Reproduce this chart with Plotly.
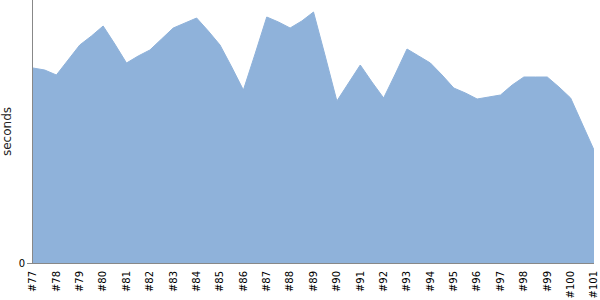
import plotly.graph_objects as go

build_labels = ["#77", "#78", "#79", "#80", "#81", "#82", "#83", "#84", "#85",
                "#86", "#87", "#88", "#89", "#90", "#91", "#92", "#93", "#94",
                "#95", "#96", "#97", "#98", "#99", "#100", "#101"]

# samples every half build step (49 samples)
seconds = [195, 193, 188, 203, 218, 227, 237, 219, 200, 207, 213, 224, 235,
           240, 245, 232, 218, 196, 173, 209, 246, 241, 235, 242, 251, 207,
           162, 180, 198, 181, 165, 189, 214, 207, 200, 188, 175, 170, 164,
           166, 168, 178, 186, 186, 186, 176, 165, 139, 113]

x_pos = [i / 2 for i in range(len(seconds))]
tick_pos = list(range(len(build_labels)))

fig = go.Figure()
fig.add_trace(go.Scatter(
    x=x_pos, y=seconds, mode="lines", fill="tozeroy",
    fillcolor="rgb(143,178,218)", line=dict(color="rgb(143,178,218)", width=1),
    hoverinfo="skip", showlegend=False,
))

fig.update_layout(
    width=600, height=300,
    margin=dict(l=33, r=6, t=0, b=37),
    paper_bgcolor="white", plot_bgcolor="white",
    font=dict(family="DejaVu Sans", size=10, color="black"),
    xaxis=dict(
        range=[0, len(build_labels) - 1],
        tickmode="array", tickvals=tick_pos, ticktext=build_labels,
        tickangle=-90, showgrid=False, zeroline=False,
        showline=True, linecolor="#888888", linewidth=1,
        ticks="outside", ticklen=3, tickcolor="rgba(0,0,0,0)",
        tickfont=dict(size=10, color="black"),
    ),
    yaxis=dict(
        range=[0, 263], tickmode="array", tickvals=[0], ticktext=["0"],
        showgrid=False, zeroline=False,
        showline=True, linecolor="#888888", linewidth=1,
        ticks="outside", ticklen=5, tickcolor="#888888",
        tickfont=dict(size=10, color="black"),
        title=dict(text="seconds", font=dict(size=12, color="#222222"), standoff=5),
    ),
)

fig.write_html("out.html")
